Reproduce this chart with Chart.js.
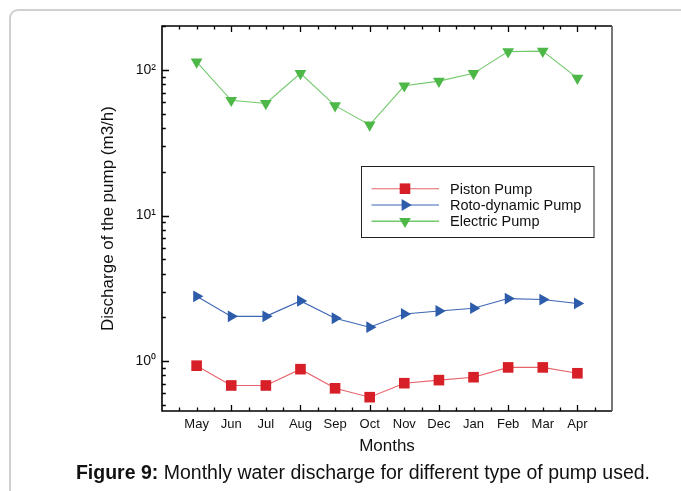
<!DOCTYPE html>
<html><head><meta charset="utf-8">
<script src="https://cdn.jsdelivr.net/npm/chart.js@4.4.0/dist/chart.umd.min.js"></script>
<style>
html,body{margin:0;padding:0;background:#fff;width:681px;height:491px;overflow:hidden;}
#wrap{position:absolute;left:0;top:0;width:681px;height:491px;}
#cap{position:absolute;left:0;width:726px;top:461px;text-align:center;font:19.5px "Liberation Sans",Arial,sans-serif;color:#111;white-space:nowrap;}
</style></head><body>
<div id="wrap"><canvas id="c" width="681" height="491"></canvas></div>
<div id="cap"><b>Figure 9:</b> Monthly water discharge for different type of pump used.</div>
<script>
const months = ['May','Jun','Jul','Aug','Sep','Oct','Nov','Dec','Jan','Feb','Mar','Apr'];
const piston = [0.93, 0.68, 0.68, 0.88, 0.65, 0.565, 0.705, 0.74, 0.775, 0.905, 0.905, 0.825];
const roto = [2.79, 2.03, 2.03, 2.59, 1.97, 1.71, 2.11, 2.21, 2.31, 2.69, 2.65, 2.49];
const electric = [114, 62, 59, 95, 57, 42, 78, 84, 95, 134, 135, 88];
const yTickValues = [1, 10, 100];
const yTickLabels = ['10\u2070', '10\u00B9', '10\u00B2'];
const seriesNames = ['Piston Pump', 'Roto-dynamic Pump', 'Electric Pump'];

const F = '"Liberation Sans", Arial, sans-serif';
const styles = [
  {line:'#e6636a', fill:'#d61f26', shape:'rect', r:7.5, rot:0},
  {line:'#3d66b5', fill:'#2d5caa', shape:'triangle', r:6.8, rot:90},
  {line:'#72c96b', fill:'#4db848', shape:'triangle', r:6.8, rot:180}
];
const seriesValues = [piston, roto, electric];

function drawMarker(ctx, s, x, y){
  ctx.fillStyle = s.fill;
  ctx.beginPath();
  if (s.shape === 'rect'){
    const h = s.r * Math.SQRT1_2;
    ctx.rect(x-h, y-h, 2*h, 2*h);
  } else {
    let rad = s.rot * Math.PI/180;
    ctx.moveTo(x + Math.sin(rad)*s.r, y - Math.cos(rad)*s.r);
    rad += 2*Math.PI/3;
    ctx.lineTo(x + Math.sin(rad)*s.r, y - Math.cos(rad)*s.r);
    rad += 2*Math.PI/3;
    ctx.lineTo(x + Math.sin(rad)*s.r, y - Math.cos(rad)*s.r);
    ctx.closePath();
  }
  ctx.fill();
}

const pageFrame = {
  id:'pageFrame',
  beforeDraw(chart){
    const ctx = chart.ctx;
    ctx.save();
    ctx.strokeStyle = '#d0d0d0';
    ctx.lineWidth = 2;
    const x0 = 10, y0 = 10, r = 8;
    ctx.beginPath();
    ctx.moveTo(x0, chart.height + 5);
    ctx.lineTo(x0, y0 + r);
    ctx.arcTo(x0, y0, x0 + r, y0, r);
    ctx.lineTo(chart.width + 5, y0);
    ctx.stroke();
    ctx.restore();
  }
};

const decor = {
  id:'decor',
  afterDraw(chart){
    const {ctx, chartArea:a, scales:{x, y}} = chart;
    ctx.save();
    ctx.lineWidth = 1.3;
    ctx.strokeStyle = '#000';
    ctx.beginPath();
    for (let v = 0.5; v < 13; v += 0.5){
      const px = Math.round(x.getPixelForValue(v)) + 0.5;
      const len = (v % 2 === 0) ? 6 : 3.5;
      ctx.moveTo(px, a.bottom); ctx.lineTo(px, a.bottom - len);
      ctx.moveTo(px, a.top); ctx.lineTo(px, a.top + len);
    }
    for (const dec of [0.1, 1, 10, 100]){
      for (let m = 1; m <= 9; m++){
        const v = m * dec;
        if (v < y.min || v > y.max) continue;
        const py = Math.round(y.getPixelForValue(v)) + 0.5;
        const len = (m === 1) ? 7 : 3.8;
        ctx.moveTo(a.left, py); ctx.lineTo(a.left + len, py);
      }
    }
    ctx.stroke();
    ctx.lineWidth = 1.6;
    ctx.beginPath();
    ctx.moveTo(a.right, a.top); ctx.lineTo(a.left, a.top); ctx.lineTo(a.left, a.bottom); ctx.lineTo(a.right, a.bottom);
    ctx.stroke();
    ctx.strokeStyle = '#555';
    ctx.beginPath();
    ctx.moveTo(a.right, a.top); ctx.lineTo(a.right, a.bottom);
    ctx.stroke();

    const bx = 361.5, by = 166.5, bw = 232.5, bh = 71;
    ctx.lineWidth = 1;
    ctx.strokeStyle = '#222';
    ctx.strokeRect(bx, by, bw, bh);
    const rows = [188.7, 205, 221.3];
    ctx.font = '14.5px ' + F;
    ctx.textBaseline = 'middle';
    ctx.textAlign = 'left';
    for (let i = 0; i < 3; i++){
      const s = styles[i];
      ctx.strokeStyle = s.line;
      ctx.lineWidth = (i === 2) ? 1.6 : 1.1;
      ctx.beginPath();
      ctx.moveTo(371.5, rows[i]); ctx.lineTo(439, rows[i]);
      ctx.stroke();
      drawMarker(ctx, s, 405, rows[i]);
      ctx.fillStyle = '#111';
      ctx.fillText(seriesNames[i], 450, rows[i] + 1);
    }
    ctx.restore();
  }
};

const datasets = seriesValues.map((vals, k) => ({
  label: seriesNames[k],
  data: vals.map((v, i) => ({x: i + 1, y: v})),
  borderColor: styles[k].line,
  backgroundColor: styles[k].fill,
  borderWidth: 1.1,
  pointStyle: styles[k].shape,
  pointRotation: styles[k].rot,
  pointRadius: styles[k].r,
  pointHoverRadius: styles[k].r,
  pointBackgroundColor: styles[k].fill,
  pointBorderColor: styles[k].fill,
  pointBorderWidth: 0,
  tension: 0
}));

new Chart(document.getElementById('c'), {
  type: 'line',
  data: { datasets },
  options: {
    responsive: false,
    animation: false,
    devicePixelRatio: 1,
    layout: { padding: { left: 0, right: 69, top: 26, bottom: 0 } },
    plugins: { legend: { display: false }, tooltip: { enabled: false } },
    scales: {
      x: {
        type: 'linear', min: 0, max: 13,
        grid: { display: false, drawTicks: false },
        border: { display: false },
        afterBuildTicks: s => { s.ticks = months.map((m, i) => ({ value: i + 1 })); },
        ticks: { autoSkip: false, maxRotation: 0, padding: 6, color: '#111',
                 font: { size: 13, family: F }, callback: (v, i) => months[i] },
        title: { display: true, text: 'Months', color: '#111', font: { size: 17, family: F },
                 padding: { top: 0, bottom: 34 } },
        afterFit: s => { s.height = 80; }
      },
      y: {
        type: 'logarithmic', min: 0.454, max: 201,
        grid: { display: false, drawTicks: false },
        border: { display: false },
        afterBuildTicks: s => { s.ticks = yTickValues.map(v => ({ value: v })); },
        ticks: { autoSkip: false, padding: 6, color: '#111', font: { size: 14, family: F },
                 callback: (v, i) => yTickLabels[i] },
        title: { display: true, text: 'Discharge of the pump (m3/h)', color: '#111',
                 font: { size: 17, family: F }, padding: { top: 98, bottom: 0 } },
        afterFit: s => { s.width = 162; }
      }
    }
  },
  plugins: [pageFrame, decor]
});
</script>
</body></html>
